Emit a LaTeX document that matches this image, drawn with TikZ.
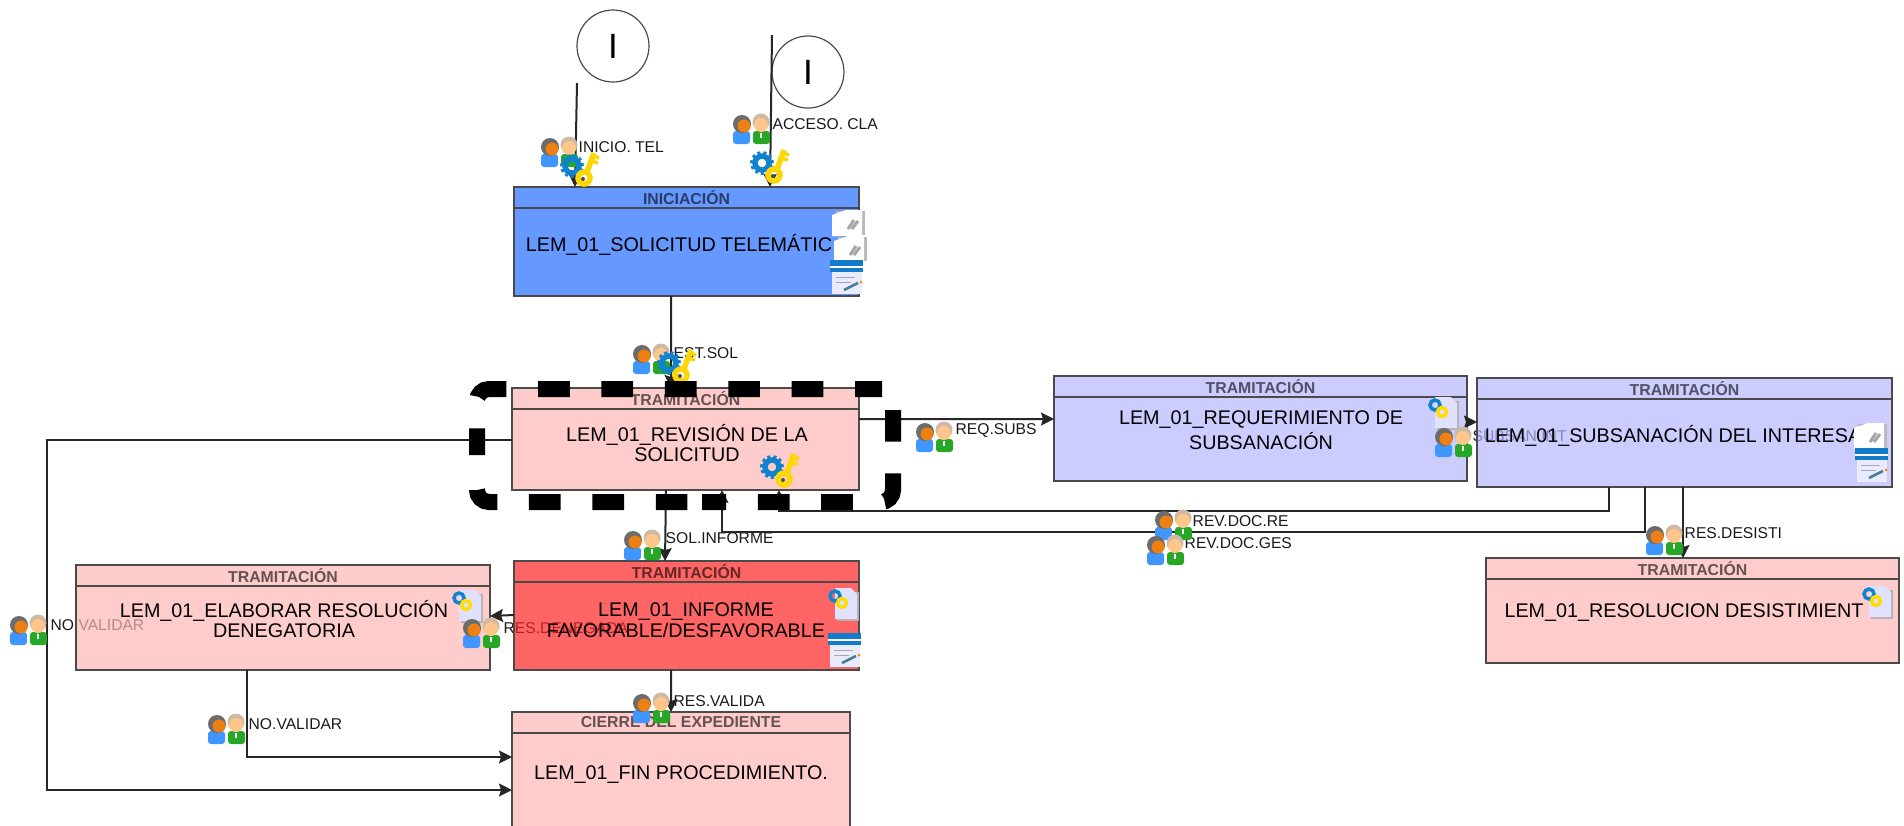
\documentclass[tikz,border=0pt]{standalone}
\usepackage{fontspec}
\setmainfont{Liberation Sans}
\usetikzlibrary{positioning, arrows.meta}
\definecolor{boxline}{HTML}{4A4A4A}
\definecolor{pinkfill}{HTML}{FFB6B6}
\definecolor{lilacfill}{HTML}{B6B6FF}
\definecolor{bluefill}{HTML}{246DFF}
\definecolor{redfill}{HTML}{FF2424}
\tikzstyle{task} = [rectangle, draw=boxline, line width=.2mm, fill opacity=.7, text opacity=1, inner sep=0pt, outer sep=0pt]
\tikzstyle{head} = [rectangle, draw=boxline, line width=.2mm, minimum height=.21cm, inner sep=0pt, outer sep=0pt, text=black, text opacity=.6, font=\fontsize{4.5}{4.5}\selectfont\bfseries]
\tikzstyle{tasktext} = [align=center, inner sep=0pt, font=\fontsize{5.62}{5.9}\selectfont]
\tikzstyle{lbl} = [anchor=west, inner sep=0pt, text=black!90, font=\fontsize{4.45}{4.45}\selectfont]
\tikzstyle{startev} = [circle, draw=boxline, line width=.12mm, minimum size=.72cm, inner sep=0pt, font=\fontsize{10}{10}\selectfont]
\tikzstyle{arrow} = [line width=.2mm, draw=black!85, ->, >={Stealth[length=.13cm,width=.13cm,inset=.02cm]}]
\tikzstyle{framedash} = [draw=black, line width=1.6mm, rounded corners=.12cm, dash pattern=on .317cm off .317cm]
\tikzset{
actors/.pic={
\begin{scope}[x=.1mm,y=.1mm]
\fill[blue!55!cyan!75, rounded corners=.03cm] (-19,-15) rectangle (-2,-2);
\fill[gray!85!black] (-10,5) circle (9);
\fill[orange!70!brown] (-8,3) circle (6.5);
\fill[green!60!black!85, rounded corners=.03cm] (1,-15) rectangle (18,-2);
\fill[orange!30!gray!55] (9,7) circle (8.5);
\fill[orange!45] (9,4) circle (7);
\fill[white] (8,-9) rectangle (10,-4);
\end{scope}},
gearkey/.pic={
\begin{scope}[x=.1mm,y=.1mm]
\draw[cyan!65!blue, line width=.55mm] (-8,4) circle (7);
\draw[cyan!65!blue, line width=.3mm, dash pattern=on .3mm off .3mm] (-8,4) circle (10.5);
\draw[yellow!75!orange, line width=.55mm] (4,-8) circle (6);
\draw[yellow!75!orange, line width=.55mm] (7,-2) -- (14,17);
\draw[yellow!75!orange, line width=.35mm] (11,9) -- (18,7) (13,14) -- (19,12);
\fill[black!70] (3,-9) circle (2);
\end{scope}},
keydoc/.pic={
\begin{scope}[x=.1mm,y=.1mm]
\fill[gray!60] (-7,-17) rectangle (15,12);
\fill[blue!12] (-9,-15) -- (-9,16) -- (7,16) -- (13,10) -- (13,-15) -- cycle;
\draw[cyan!65!blue, line width=.35mm] (-9,8) circle (5);
\draw[yellow!80!orange, line width=.35mm] (-2,1) circle (4.5);
\end{scope}},
docs/.pic={
\begin{scope}[x=.1mm,y=.1mm]
\fill[gray!55] (-12,-11) rectangle (17,13);
\fill[white] (-16,-12) -- (-16,9) -- (-2,14) -- (14,14) -- (14,-12) -- cycle;
\draw[gray!70, line width=.3mm] (4,-5) -- (10,3) (0,-5) -- (6,4);
\end{scope}},
formdoc/.pic={
\begin{scope}[x=.1mm,y=.1mm]
\fill[cyan!60!blue] (-17,5) rectangle (16,17);
\fill[white] (-17,9) rectangle (16,11);
\fill[blue!8] (-15,-17) rectangle (15,5);
\draw[gray!70, line width=.08mm] (-11,0) -- (8,0) (-11,-5) -- (4,-5);
\draw[cyan!55!black, line width=.25mm] (-3,-13) -- (11,-6);
\fill[orange] (14,-5) circle (1.5);
\end{scope}}
}

\begin{document}
\begin{tikzpicture}
\clip (0,0) rectangle (19.04,-8.25);
\useasboundingbox (0,0) rectangle (19.04,-8.25);

%labels
\node(lblIni)at(5.78,-1.47)[lbl]{INICIO. TEL};
\node(lblAcc)at(7.72,-1.24)[lbl]{ACCESO. CLA};
\node(lblEst)at(6.73,-3.53)[lbl]{EST.SOL};
\node(lblReq)at(9.55,-4.31)[lbl]{REQ.SUBS};
\node(lblSub)at(14.72,-4.36)[lbl]{SUBSAN.INT};
\node(lblRevA)at(11.92,-5.21)[lbl]{REV.DOC.RE};
\node(lblRevB)at(11.84,-5.43)[lbl]{REV.DOC.GES};
\node(lblDes)at(16.84,-5.33)[lbl]{RES.DESISTI};
\node(lblInf)at(6.65,-5.38)[lbl]{SOL.INFORME};
\node(lblNoA)at(.5,-6.25)[lbl]{NO.VALIDAR};
\node(lblNoB)at(2.48,-7.24)[lbl]{NO.VALIDAR};
\node(lblRes)at(5.03,-6.28)[lbl]{RES.DENEGADA};
\node(lblVal)at(6.73,-7.01)[lbl]{RES.VALIDA};

%start events
\node(startA)at(6.13,-.46)[startev]{I\hspace{.06cm}};
\node(startB)at(8.08,-.72)[startev]{I\hspace{.06cm}};
\coordinate(freeA)at(5.77,-.83);
\coordinate(freeB)at(7.72,-.35);

%tasks
\node(ini)at(6.865,-2.415)[task, fill=bluefill, minimum width=3.45cm, minimum height=1.09cm]{};
\node(iniH)[head, below=0cm of ini.north, minimum width=3.45cm]{INICIACIÓN};
\node(iniT)at(6.79,-2.45)[tasktext]{LEM\_01\_SOLICITUD TELEMÁTIC};

\node(rev)at(6.855,-4.39)[task, fill=pinkfill, minimum width=3.47cm, minimum height=1.02cm]{};
\node(revH)[head, below=0cm of rev.north, minimum width=3.47cm]{TRAMITACIÓN};
\node(revT)at(6.87,-4.43)[tasktext]{LEM\_01\_REVISIÓN DE LA\\SOLICITUD};

\node(req)at(12.605,-4.285)[task, fill=lilacfill, minimum width=4.13cm, minimum height=1.05cm]{};
\node(reqH)[head, below=0cm of req.north, minimum width=4.13cm]{TRAMITACIÓN};
\node(reqT)at(12.61,-4.3)[tasktext]{LEM\_01\_REQUERIMIENTO DE\\SUBSANACIÓN};

\node(sub)at(16.845,-4.325)[task, fill=lilacfill, minimum width=4.15cm, minimum height=1.09cm]{};
\node(subH)[head, below=0cm of sub.north, minimum width=4.15cm]{TRAMITACIÓN};
\node(subT)at(16.73,-4.36)[tasktext]{LEM\_01\_SUBSANACIÓN DEL INTERESA};

\node(des)at(16.925,-6.105)[task, fill=pinkfill, minimum width=4.13cm, minimum height=1.05cm]{};
\node(desH)[head, below=0cm of des.north, minimum width=4.13cm]{TRAMITACIÓN};
\node(desT)at(16.84,-6.13)[tasktext]{LEM\_01\_RESOLUCION DESISTIMIENT};

\node(inf)at(6.865,-6.155)[task, fill=redfill, minimum width=3.45cm, minimum height=1.09cm]{};
\node(infH)[head, below=0cm of inf.north, minimum width=3.45cm]{TRAMITACIÓN};
\node(infT)at(6.86,-6.2)[tasktext]{LEM\_01\_INFORME\\FAVORABLE/DESFAVORABLE};

\node(ela)at(2.83,-6.175)[task, fill=pinkfill, minimum width=4.14cm, minimum height=1.05cm]{};
\node(elaH)[head, below=0cm of ela.north, minimum width=4.14cm]{TRAMITACIÓN};
\node(elaT)at(2.84,-6.19)[tasktext]{LEM\_01\_ELABORAR RESOLUCIÓN\\DENEGATORIA};

\node(fin)at(6.81,-7.71)[task, fill=pinkfill, minimum width=3.38cm, minimum height=1.18cm]{};
\node(finH)[head, below=0cm of fin.north, minimum width=3.38cm]{CIERRE DEL EXPEDIENTE};
\node(finT)at(6.81,-7.75)[tasktext]{LEM\_01\_FIN PROCEDIMIENTO.};

%arrows
\draw[arrow](freeA)--([xshift=-1.115cm]ini.north);
\draw[arrow](freeB)--([xshift=.835cm]ini.north);
\draw[arrow]([xshift=-.155cm]ini.south)--([xshift=-.145cm]rev.north);
\draw[arrow]([yshift=.2cm]rev.east)--([yshift=.095cm]req.west);
\draw[arrow]([yshift=.065cm]req.east)--([yshift=.105cm]sub.west);
\draw[arrow]([yshift=-.01cm]rev.west)-|(.47,-5.5)|-([yshift=-.19cm]fin.west);
\draw[arrow]([xshift=-.36cm]ela.south)|-([yshift=.14cm]fin.west);
\draw[arrow]([xshift=-.195cm]rev.south)--([xshift=-.215cm]inf.north);
\draw[arrow]([yshift=.005cm]inf.west)--([yshift=.015cm]ela.east);
\draw[arrow]([xshift=-.155cm]inf.south)--([xshift=-.1cm]fin.north);
\draw[arrow]([xshift=-.755cm]sub.south)--++(0,-.24)-|([xshift=.935cm]rev.south);
\draw[arrow]([xshift=-.395cm]sub.south)--++(0,-.45)-|([xshift=.365cm]rev.south);
\draw[arrow]([xshift=-.015cm]sub.south)--([xshift=-.095cm]des.north);

%icons
\pic at(5.6,-1.52){actors};
\pic at(5.8,-1.7){gearkey};
\pic at(7.52,-1.29){actors};
\pic at(7.7,-1.67){gearkey};
\pic at(6.52,-3.59){actors};
\pic at(6.77,-3.67){gearkey};
\pic at(7.8,-4.71){gearkey};
\pic at(9.35,-4.37){actors};
\pic at(14.44,-4.13){keydoc};
\pic at(14.54,-4.42){actors};
\pic at(11.74,-5.25){actors};
\pic at(11.66,-5.5){actors};
\pic at(16.65,-5.4){actors};
\pic at(6.43,-5.45){actors};
\pic at(.29,-6.3){actors};
\pic at(2.27,-7.29){actors};
\pic at(6.52,-7.08){actors};
\pic at(4.68,-6.06){keydoc};
\pic at(4.82,-6.33){actors};
\pic at(8.44,-6.04){keydoc};
\pic at(8.45,-6.5){formdoc};
\pic at(8.48,-2.24){docs};
\pic at(8.5,-2.5){docs};
\pic at(8.47,-2.77){formdoc};
\pic at(18.7,-4.37){docs};
\pic at(18.72,-4.65){formdoc};
\pic at(18.78,-6.02){keydoc};

%selection frame
\draw[framedash, dash phase=.05cm](4.77,-4.55)--(4.77,-3.89)--(8.82,-3.89);
\draw[framedash, dash phase=.424cm](8.93,-3.89)--(8.93,-5.02)--(7.02,-5.02);
\draw[framedash, dash phase=.047cm](4.77,-4.9)--(4.77,-5.02)--(6.9,-5.02);
\end{tikzpicture}
\end{document}
